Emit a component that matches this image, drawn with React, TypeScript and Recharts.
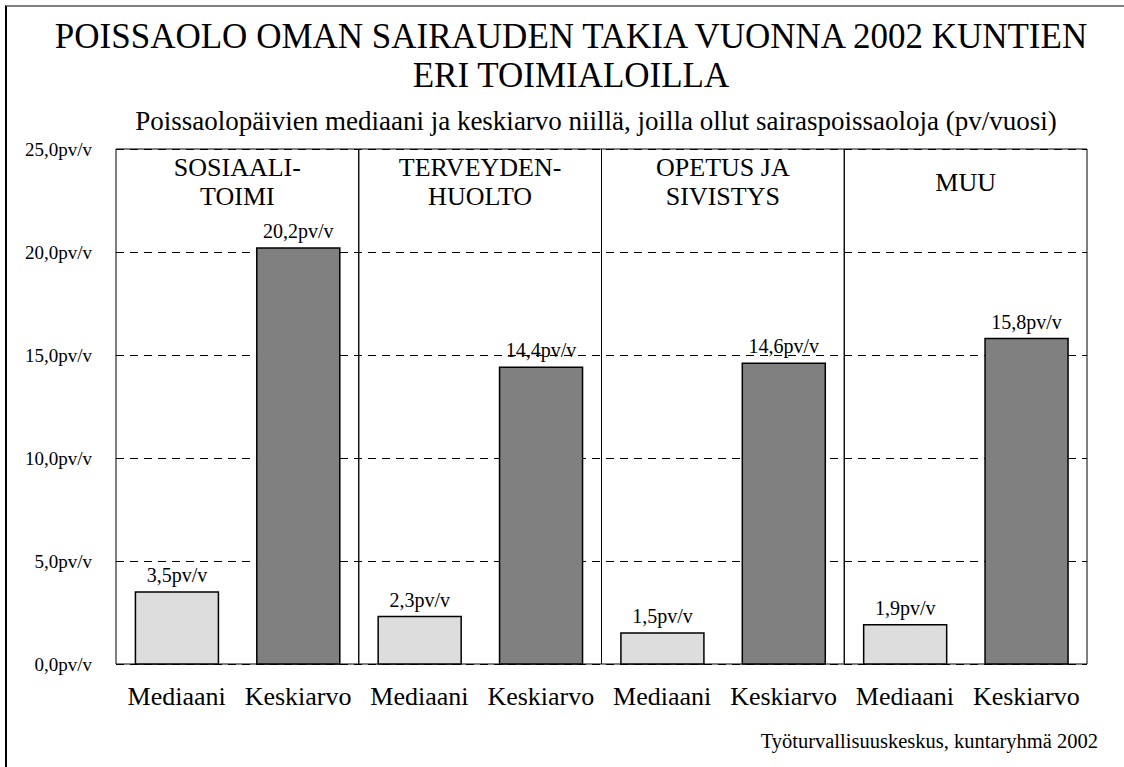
import React from 'react';
import { BarChart, Bar, XAxis, YAxis, CartesianGrid, ReferenceArea, LabelList, Cell } from 'recharts';

const SEGMENTS = ['SOSIAALITOIMI', 'TERVEYDENHUOLTO', 'OPETUS JA SIVISTYS', 'MUU'];
const SEGMENT_LINES = [['SOSIAALI-', 'TOIMI'], ['TERVEYDEN-', 'HUOLTO'], ['OPETUS JA', 'SIVISTYS'], ['MUU']];
const MEASURES = ['Mediaani', 'Keskiarvo'];
const MEDIAN = [3.5, 2.3, 1.5, 1.9];
const MEAN = [20.2, 14.4, 14.6, 15.8];
const Y_TICKS = [0, 5, 10, 15, 20, 25];
const FILLS = ['#dddddd', '#808080'];

const FONT = "'Liberation Serif', 'Times New Roman', serif";

const data = SEGMENTS.flatMap((segment, i) => [
  { id: `${i}-m`, measure: MEASURES[0], segment, value: MEDIAN[i] },
  { id: `${i}-k`, measure: MEASURES[1], segment, value: MEAN[i] },
]);
const measureById: Record<string, string> = Object.fromEntries(data.map(d => [d.id, d.measure]));

const fmt = (v: number) => `${v.toFixed(1).replace('.', ',')}pv/v`;

function SegmentLabel({ viewBox, lines }: { viewBox?: any; lines: string[] }) {
  if (!viewBox) return null;
  const cx = viewBox.x + viewBox.width / 2;
  const lineH = 29;
  const firstBase = viewBox.y + 41.5 - ((lines.length - 1) * lineH) / 2;
  return (
    <text x={cx} y={firstBase} textAnchor="middle" fontFamily={FONT} fontSize={26} fill="#000">
      {lines.map((l, i) => (
        <tspan key={i} x={cx} y={firstBase + i * lineH}>{l}</tspan>
      ))}
    </text>
  );
}

export default function App() {
  return (
    <div style={{ position: 'relative', width: 1124, height: 767, background: '#fff', overflow: 'hidden' }}>
      <style>{'body{margin:0}'}</style>
      <div style={{ position: 'absolute', left: 5, top: 5, right: 0, bottom: 0, borderTop: '2px solid #808080', borderLeft: '2px solid #000' }} />
      <BarChart
        width={1124}
        height={767}
        data={data}
        margin={{ top: 149, right: 37, bottom: 0, left: 0 }}
        barCategoryGap="16%"
      >
        <CartesianGrid vertical={false} stroke="#000" strokeDasharray="8 6" shapeRendering="crispEdges" />
        <XAxis
          xAxisId="main"
          dataKey="id"
          height={103}
          axisLine={false}
          tickLine={false}
          tickSize={0}
          tickMargin={23}
          interval={0}
          tickFormatter={(id: string) => measureById[id]}
          tick={{ fontSize: 26, fill: '#000', fontFamily: FONT }}
        />
        <XAxis xAxisId="seg" dataKey="segment" allowDuplicatedCategory={false} hide />
        <YAxis
          width={116}
          domain={[0, 25]}
          ticks={Y_TICKS}
          axisLine={false}
          tickLine={false}
          tickSize={0}
          tickMargin={24}
          tickFormatter={fmt}
          tick={{ fontSize: 19, fill: '#000', fontFamily: FONT }}
        />
        {SEGMENTS.map((seg, i) => (
          <ReferenceArea
            key={seg}
            xAxisId="seg"
            x1={seg}
            x2={seg}
            fill="none"
            fillOpacity={0}
            stroke="#000"
            strokeWidth={1}
            ifOverflow="visible"
            label={(props: any) => <SegmentLabel viewBox={props.viewBox} lines={SEGMENT_LINES[i]} />}
          />
        ))}
        <Bar xAxisId="main" dataKey="value" stroke="#000" strokeWidth={1.5} isAnimationActive={false}>
          {data.map((d, i) => (
            <Cell key={d.id} fill={FILLS[i % 2]} />
          ))}
          <LabelList
            dataKey="value"
            position="top"
            offset={10}
            formatter={(v: any) => fmt(Number(v))}
            style={{ fontSize: 20, fill: '#000', fontFamily: FONT }}
          />
        </Bar>
      </BarChart>
      <svg width={1124} height={767} style={{ position: 'absolute', left: 0, top: 0, pointerEvents: 'none' }}>
        <text x={571} y={48} textAnchor="middle" fontFamily={FONT} fontSize={35} fill="#000">
          POISSAOLO OMAN SAIRAUDEN TAKIA VUONNA 2002 KUNTIEN
        </text>
        <text x={571} y={87} textAnchor="middle" fontFamily={FONT} fontSize={35} fill="#000">
          ERI TOIMIALOILLA
        </text>
        <text x={596} y={130} textAnchor="middle" fontFamily={FONT} fontSize={27} fill="#000">
          Poissaolopäivien mediaani ja keskiarvo niillä, joilla ollut sairaspoissaoloja (pv/vuosi)
        </text>
        <text x={1098} y={748} textAnchor="end" fontFamily={FONT} fontSize={20.5} fill="#000">
          Työturvallisuuskeskus, kuntaryhmä 2002
        </text>
      </svg>
    </div>
  );
}
